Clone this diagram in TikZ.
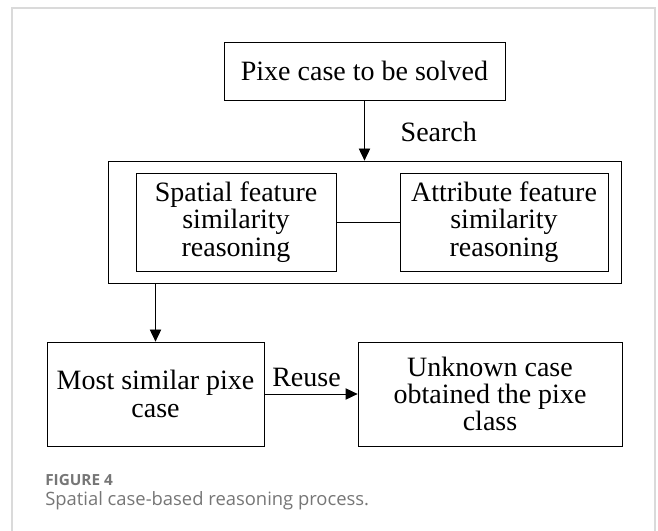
\documentclass[tikz,border=0pt]{standalone}
\usepackage{fontspec}
\setmainfont{Liberation Serif}
\newfontfamily\capfont{Open Sans}
\usetikzlibrary{arrows.meta}
\definecolor{framegray}{HTML}{DADADA}
\definecolor{capgray}{HTML}{767676}

\begin{document}
\begin{tikzpicture}[x=0.75pt, y=-0.75pt,
    box/.style={draw, line width=0.6pt, align=center, inner sep=2pt,
        font=\fontsize{21}{20.5}\selectfont},
    flow/.style={-{Triangle[length=9pt, width=8.5pt]}, line width=0.6pt}]
    \useasboundingbox (0,0) rectangle (658,531);
    % outer frame of the figure
    \draw[framegray, line width=1pt] (12,531) -- (12,8) -- (655,8) -- (655,531);

    % Boxes
    \node[box, minimum width=210.75pt, minimum height=43.5pt] (pixe) at (364.5,71) {Pixe case to be solved};
    \node[draw, line width=0.6pt, minimum width=384.75pt, minimum height=91.5pt] (search) at (364.5,222) {};
    \node[box, minimum width=150pt, minimum height=73.5pt] (spatial) at (236,222) {Spatial feature\\similarity\\reasoning};
    \node[box, minimum width=156pt, minimum height=73.5pt] (attr) at (504,222) {Attribute feature\\similarity\\reasoning};
    \node[box, minimum width=162.75pt, minimum height=78pt] (similar) at (155.5,394) {Most similar pixe\\case};
    \node[box, minimum width=198pt, minimum height=78pt] (unknown) at (490,394) {Unknown case\\obtained the pixe\\class};

    % Connectors
    \draw[flow] (pixe.south) -- (pixe.south |- search.north);
    \draw[line width=0.6pt] (spatial.east) -- (attr.west);
    \draw[flow] (similar.north |- search.south) -- (similar.north);
    \draw[flow] (similar.east) -- (unknown.west);

    % Labels
    \node[font=\fontsize{21}{24}\selectfont, anchor=west] (searchlbl) at (396,132) {Search};
    \node[font=\fontsize{21}{24}\selectfont, anchor=base west, inner sep=0pt] (reuselbl) at (272,387) {Reuse};

    % Caption
    \node[anchor=base west, inner sep=0pt, text=capgray, font=\capfont\fontsize{11.5}{13}\selectfont\bfseries] (fignum) at (45,485) {FIGURE 4};
    \node[anchor=base west, inner sep=0pt, text=capgray, font=\capfont\fontsize{13.8}{16}\selectfont] (figcap) at (45,505) {Spatial case-based reasoning process.};
\end{tikzpicture}
\end{document}
